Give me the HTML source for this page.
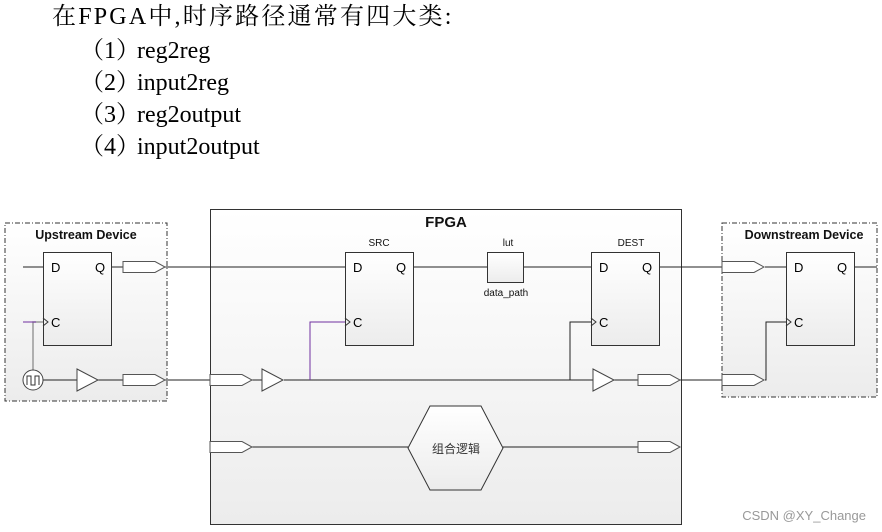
<!DOCTYPE html>
<html><head><meta charset="utf-8"><style>
body{margin:0;background:#fff;width:882px;height:532px;overflow:hidden;position:relative}
.t{position:absolute;font-family:"Liberation Serif","Noto Serif CJK SC",serif;font-size:24px;color:#000;line-height:1}
</style></head><body>
<div class="t" style="left:52px;top:5px;letter-spacing:2.2px">在FPGA中,时序路径通常有四大类:</div>
<div class="t" style="left:80px;top:39px">（1）<span style="margin-left:-3px">reg2reg</span></div>
<div class="t" style="left:80px;top:71px">（2）<span style="margin-left:-3px">input2reg</span></div>
<div class="t" style="left:80px;top:103px">（3）<span style="margin-left:-3px">reg2output</span></div>
<div class="t" style="left:80px;top:135px">（4）<span style="margin-left:-3px">input2output</span></div>
<svg width="882" height="532" style="position:absolute;left:0;top:0" font-family="Liberation Sans, DejaVu Sans, sans-serif">
<defs>
<linearGradient id="g" x1="0" y1="0" x2="0" y2="1"><stop offset="0" stop-color="#fff"/><stop offset="1" stop-color="#ececec"/></linearGradient>
<g id="port"><path d="M0,-5.5 H32 L42,0 L32,5.5 H0 Z" fill="#fff" stroke="#555" stroke-width="1"/></g>
<g id="buf"><path d="M0,-11 L21,0 L0,11 Z" fill="#fff" stroke="#444" stroke-width="1"/></g>
</defs>
<rect x="5" y="223" width="162" height="178" fill="url(#g)" stroke="#333" stroke-dasharray="5,2,1,2"/>
<rect x="210.5" y="209.5" width="471" height="315" fill="url(#g)" stroke="#333"/>
<rect x="722" y="223" width="155" height="174" fill="url(#g)" stroke="#333" stroke-dasharray="5,2,1,2"/>
<g font-weight="bold" font-size="12.5" fill="#111">
<text x="86" y="239" text-anchor="middle">Upstream Device</text>
<text x="446" y="227" text-anchor="middle" font-size="15">FPGA</text>
<text x="804" y="239" text-anchor="middle">Downstream Device</text>
</g>
<g font-size="10" fill="#111" text-anchor="middle">
<text x="379" y="246">SRC</text><text x="508" y="246">lut</text><text x="631" y="246">DEST</text>
<text x="506" y="296">data_path</text>
</g>
<g stroke="#222" stroke-width="1" fill="none">
<path d="M23,267H43 M111,267H123 M165,267H345 M412,267H487 M523,267H591 M659,267H722 M765,267H786 M854,267H877"/>
<path d="M43,380H77 M98,380H123 M165,380H210 M252,380H262 M284,380H593 M614,380H638 M680,380H722"/>
<path d="M570,380V322H591 M765,380H766V322H786"/>
<path d="M210,447H252 M252,447H408 M503,447H638"/>
</g>
<path d="M33,370V322H43" stroke="#999" stroke-width="1.5" fill="none"/>
<path d="M23,322H36" stroke="#7030a0" fill="none"/>
<path d="M310,380V322H345" stroke="#7030a0" fill="none"/>
<g fill="url(#g)" stroke="#333">
<rect x="43.5" y="252.5" width="68" height="93"/>
<rect x="345.5" y="252.5" width="68" height="93"/>
<rect x="591.5" y="252.5" width="68" height="93"/>
<rect x="786.5" y="252.5" width="68" height="93"/>
<rect x="487.5" y="252.5" width="36" height="30"/>
<path d="M408,448 L430,406 H481 L503,448 L481,490 H430 Z"/>
</g>
<g font-size="13" fill="#000">
<text x="51" y="272">D</text><text x="95" y="272">Q</text><text x="51" y="327">C</text>
<text x="353" y="272">D</text><text x="396" y="272">Q</text><text x="353" y="327">C</text>
<text x="599" y="272">D</text><text x="642" y="272">Q</text><text x="599" y="327">C</text>
<text x="794" y="272">D</text><text x="837" y="272">Q</text><text x="794" y="327">C</text>
</g>
<g fill="none" stroke="#333"><path d="M43,318L48,322L43,326 M345,318L350,322L345,326 M591,318L596,322L591,326 M786,318L791,322L786,326"/></g>
<text x="456" y="453" text-anchor="middle" font-size="12" fill="#333" font-family="Noto Sans CJK SC, sans-serif">组合逻辑</text>
<use href="#port" x="123" y="267"/><use href="#port" x="123" y="380"/>
<use href="#port" x="210" y="380"/><use href="#port" x="210" y="447"/>
<use href="#port" x="638" y="380"/><use href="#port" x="638" y="447"/>
<use href="#port" x="722" y="267"/><use href="#port" x="722" y="380"/>
<use href="#buf" x="77" y="380"/><use href="#buf" x="262" y="380"/><use href="#buf" x="593" y="380"/>
<circle cx="33" cy="380" r="10" fill="#fff" stroke="#444"/>
<path d="M27,385V376H31V385H35V376H39V385" fill="none" stroke="#333"/>
<text x="866" y="520" text-anchor="end" font-size="13" fill="#999">CSDN @XY_Change</text>
</svg>
</body></html>
